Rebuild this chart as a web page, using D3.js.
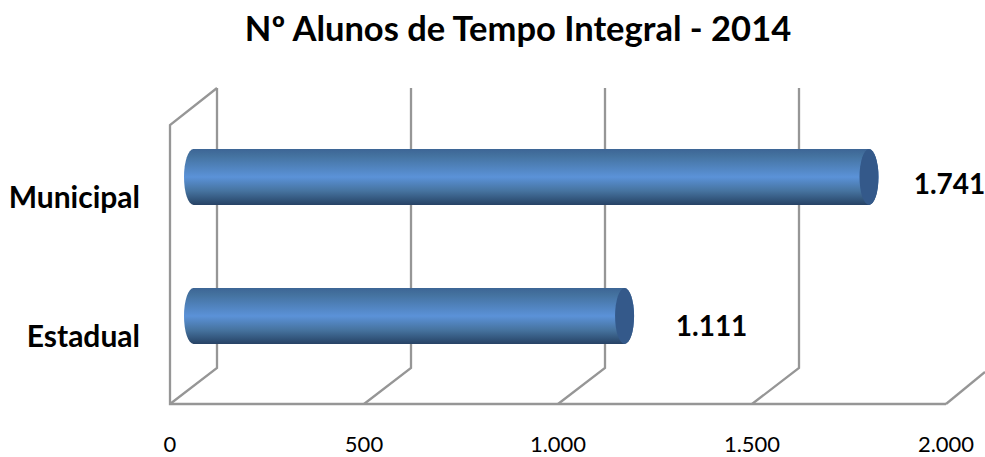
<!DOCTYPE html>
<html>
<head>
<meta charset="utf-8">
<script src="https://cdn.jsdelivr.net/npm/d3@7"></script>
<style>
html, body { margin: 0; padding: 0; background: #fff; overflow: hidden; }
svg { display: block; }
text { font-family: Lato, "Open Sans", sans-serif; fill: #000; }
</style>
</head>
<body>
<svg id="chart" width="985" height="457"></svg>
<script>
// chart values
const categories = ["Municipal", "Estadual"];
const values = [1741, 1111];
const valueLabels = ["1.741", "1.111"];
const tickValues = [0, 500, 1000, 1500, 2000];
const tickLabels = ["0", "500", "1.000", "1.500", "2.000"];
const title = "Nº Alunos de Tempo Integral - 2014";

const svg = d3.select("#chart");

// front plane of the fake 3d box
const x = d3.scaleLinear().domain([0, 2000]).range([170, 946]);
const y = d3.scalePoint().domain(categories).range([177, 316]);
const floorY = 404, backFloorY = 368, topY = 88;
const depthX = 47;
const frontTopY = 125;

const barH = 56;
const capRx = 9.5;
const labelGap = { Municipal: 80.5, Estadual: 87 };
const labelDrop = { Municipal: 17, Estadual: 20 };

// walls and gridlines
const grey = "#969696";
const gridG = svg.append("g").attr("fill", "none").attr("stroke", grey).attr("stroke-width", 2.3);

gridG.selectAll("path.grid")
  .data(tickValues)
  .enter().append("path")
  .attr("class", "grid")
  .attr("d", d => {
    const fx = x(d), bx = fx + depthX;
    // last one has no back wall line
    if (d === 2000) return `M${fx},${floorY}L${bx - 8},${floorY - 32}`;
    return `M${fx},${floorY}L${bx},${backFloorY}L${bx},${topY}`;
  });

gridG.append("path")
  .attr("d", `M${x(0) + depthX},${topY}L${x(0)},${frontTopY}L${x(0)},${floorY}L${x(2000)},${floorY}`);

// cylinder shading
const defs = svg.append("defs");
const grad = defs.append("linearGradient")
  .attr("id", "cyl").attr("x1", 0).attr("y1", 0).attr("x2", 0).attr("y2", 1);
[[0, "#3d6595"], [0.12, "#44729f"], [0.5, "#5b92d8"], [0.75, "#46739f"], [0.93, "#2f5075"], [1, "#274265"]]
  .forEach(s => grad.append("stop").attr("offset", s[0]).attr("stop-color", s[1]));

const startX = x(0) + depthX / 2;
const barEnd = i => startX + x(values[i]) - x(0);

const bars = svg.append("g").selectAll("g")
  .data(categories)
  .enter().append("g");

bars.append("path")
  .attr("fill", "url(#cyl)")
  .attr("d", (c, i) => {
    const t = y(c) - barH / 2, b = y(c) + barH / 2;
    return `M${startX},${t}A${capRx},${barH / 2} 0 0 0 ${startX},${b}L${barEnd(i)},${b}A${capRx},${barH / 2} 0 0 0 ${barEnd(i)},${t}Z`;
  });

bars.append("ellipse")
  .attr("cx", (c, i) => barEnd(i))
  .attr("cy", c => y(c))
  .attr("rx", capRx)
  .attr("ry", barH / 2)
  .attr("fill", "#34598a");

// value labels
svg.append("g").selectAll("text")
  .data(categories)
  .enter().append("text")
  .attr("x", (c, i) => barEnd(i) + labelGap[c])
  .attr("y", c => y(c) + labelDrop[c])
  .attr("text-anchor", "middle")
  .attr("font-size", 28)
  .attr("font-weight", 700)
  .text((c, i) => valueLabels[i]);

// category labels
svg.append("g").selectAll("text")
  .data(categories)
  .enter().append("text")
  .attr("x", 140)
  .attr("y", c => y(c) + 31)
  .attr("text-anchor", "end")
  .attr("font-size", 30)
  .attr("font-weight", 700)
  .text(c => c);

// x tick labels
svg.append("g").selectAll("text")
  .data(tickValues)
  .enter().append("text")
  .attr("x", d => x(d))
  .attr("y", 452)
  .attr("text-anchor", "middle")
  .attr("font-size", 22)
  .text((d, i) => tickLabels[i]);

svg.append("text")
  .attr("x", 518)
  .attr("y", 41)
  .attr("text-anchor", "middle")
  .attr("font-size", 34.5)
  .attr("font-weight", 700)
  .text(title);
</script>
</body>
</html>
